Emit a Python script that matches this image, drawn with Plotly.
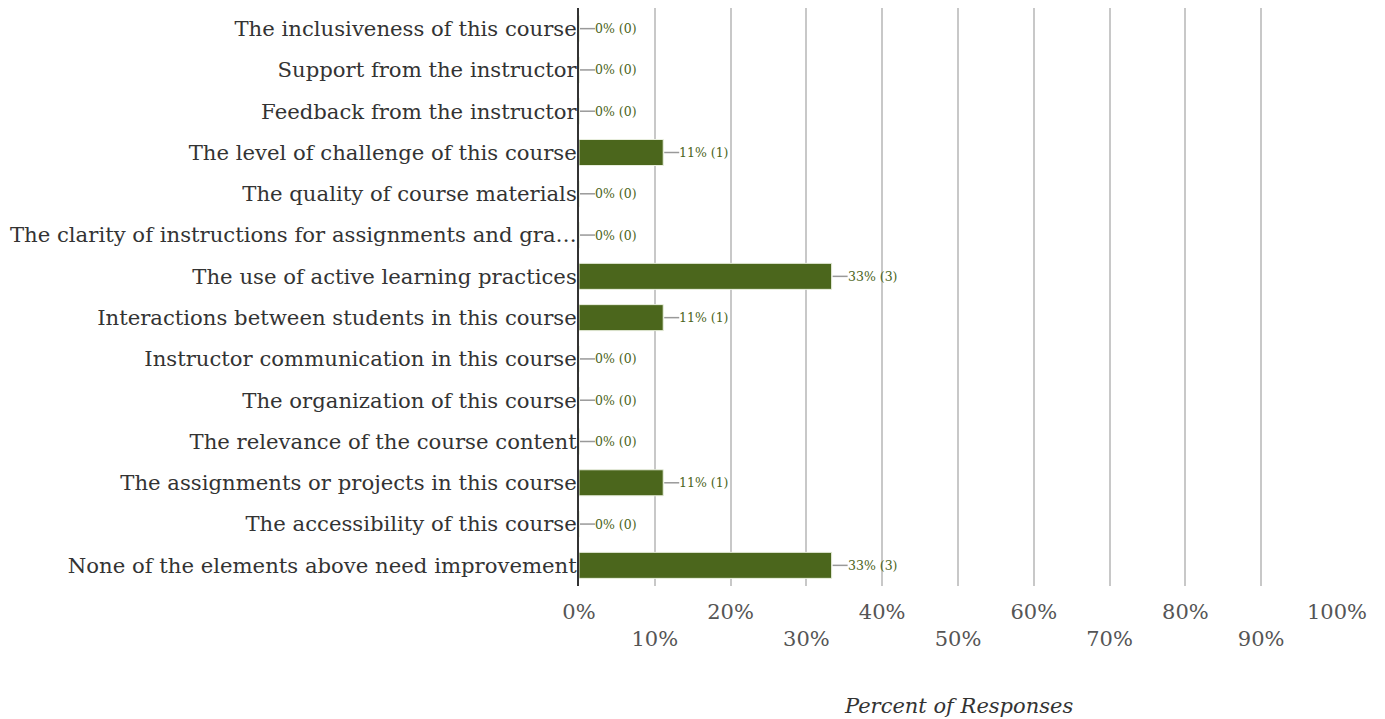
import plotly.graph_objects as go

categories = [
    "The inclusiveness of this course",
    "Support from the instructor",
    "Feedback from the instructor",
    "The level of challenge of this course",
    "The quality of course materials",
    "The clarity of instructions for assignments and gra…",
    "The use of active learning practices",
    "Interactions between students in this course",
    "Instructor communication in this course",
    "The organization of this course",
    "The relevance of the course content",
    "The assignments or projects in this course",
    "The accessibility of this course",
    "None of the elements above need improvement",
]
counts = [0, 0, 0, 1, 0, 0, 3, 1, 0, 0, 0, 1, 0, 3]
percents = [0, 0, 0, 11.11, 0, 0, 33.33, 11.11, 0, 0, 0, 11.11, 0, 33.33]
tick_values = [0, 10, 20, 30, 40, 50, 60, 70, 80, 90, 100]
tick_labels = ["0%", "<br>10%", "20%", "<br>30%", "40%", "<br>50%", "60%",
               "<br>70%", "80%", "<br>90%", "100%"]
x_title = "Percent of Responses"

BAR = "#4b661c"
TEXT_GREEN = "#4b6420"
SERIF = "DejaVu Serif"

fig = go.Figure()
fig.add_trace(go.Bar(
    x=percents, y=categories, orientation="h",
    marker=dict(color=BAR, line=dict(color="#e8eedd", width=1)),
    width=0.63, hoverinfo="skip",
))

for cat, p, c in zip(categories, percents, counts):
    fig.add_shape(type="line", xref="x", yref="y", xsizemode="pixel",
                  xanchor=p, x0=1, x1=16, y0=cat, y1=cat,
                  line=dict(color="#999999", width=1.5), layer="above")
    fig.add_annotation(x=p, y=cat, xref="x", yref="y", xanchor="left",
                       xshift=14, showarrow=False,
                       text=f"{round(p)}% ({c})",
                       font=dict(family=SERIF, size=12.5, color=TEXT_GREEN))

# axis title placed below the staggered tick labels
fig.add_annotation(x=0.5, y=0, xref="paper", yref="paper",
                   xanchor="center", yanchor="middle", yshift=-120,
                   showarrow=False, text=f"<i>{x_title}</i>",
                   font=dict(family=SERIF, size=21, color="#333333"))

# page body has an 8px margin, so the figure is offset accordingly
fig.update_layout(
    width=1369, height=711,
    margin=dict(l=571, r=40, t=0, b=133, pad=0),
    plot_bgcolor="white", paper_bgcolor="white",
    showlegend=False,
    bargap=0.37,
    font=dict(family=SERIF),
)
fig.update_xaxes(
    range=[0, 100], tickvals=tick_values, ticktext=tick_labels,
    showgrid=True, gridcolor="#c8c8c8", gridwidth=1.5,
    zeroline=False, showline=False, ticks="", automargin=False,
    ticklabelstandoff=11,
    tickfont=dict(family=SERIF, size=21, color="#555555"),
)
fig.update_yaxes(
    categoryorder="array", categoryarray=categories, autorange="reversed",
    showgrid=False, showline=True, linecolor="#333333", linewidth=2,
    ticks="", ticklabelstandoff=-4, automargin=False,
    tickfont=dict(family=SERIF, size=21.2, color="#333333"),
)

fig.write_html("out.html")
